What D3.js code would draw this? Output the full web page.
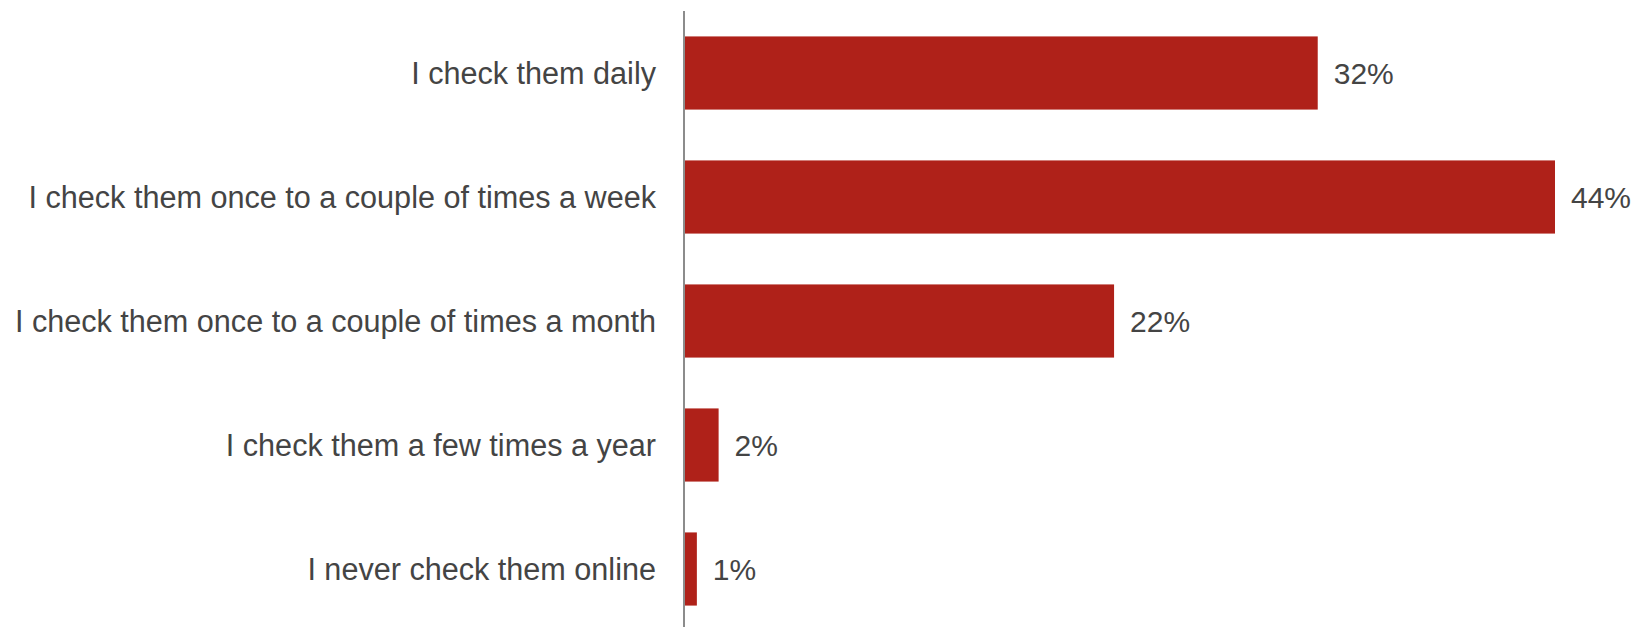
<!DOCTYPE html>
<html><head><meta charset="utf-8">
<script src="https://cdn.jsdelivr.net/npm/d3@7"></script>
<style>html,body{margin:0;padding:0;background:#fff;}svg{display:block;}</style>
</head><body>
<svg id="chart" width="1645" height="627"></svg>
<script>
const categories = [
  "I check them daily",
  "I check them once to a couple of times a week",
  "I check them once to a couple of times a month",
  "I check them a few times a year",
  "I never check them online"
];
const values = [32, 44, 21.7, 1.7, 0.6];
const valueLabels = ["32%", "44%", "22%", "2%", "1%"];

const svg = d3.select("#chart");
const x = d3.scaleLinear().domain([0, 44]).range([685, 1555]);
const y = d3.scaleBand().domain(categories).range([11, 631]).paddingInner(0.41).paddingOuter(0.205);

const data = categories.map((c, i) => ({c, v: values[i], l: valueLabels[i]}));

svg.selectAll("rect.bar").data(data).enter().append("rect")
  .attr("class", "bar")
  .attr("x", x(0))
  .attr("y", d => y(d.c))
  .attr("width", d => x(d.v) - x(0))
  .attr("height", y.bandwidth())
  .attr("fill", "#AF2119");

svg.append("line")
  .attr("x1", 684).attr("x2", 684)
  .attr("y1", 11).attr("y2", 627)
  .attr("stroke", "#8c8c8c").attr("stroke-width", 2);

svg.selectAll("text.cat").data(data).enter().append("text")
  .attr("class", "cat")
  .attr("x", 656)
  .attr("y", d => y(d.c) + y.bandwidth() / 2)
  .attr("dy", "0.35em")
  .attr("text-anchor", "end")
  .attr("font-family", "Liberation Sans, Arial, sans-serif")
  .attr("font-size", 30.6)
  .attr("fill", "#444444")
  .text(d => d.c);

svg.selectAll("text.val").data(data).enter().append("text")
  .attr("class", "val")
  .attr("x", d => x(d.v) + 16)
  .attr("y", d => y(d.c) + y.bandwidth() / 2)
  .attr("dy", "0.35em")
  .attr("font-family", "Liberation Sans, Arial, sans-serif")
  .attr("font-size", 30)
  .attr("fill", "#444444")
  .text(d => d.l);
</script>
</body></html>
